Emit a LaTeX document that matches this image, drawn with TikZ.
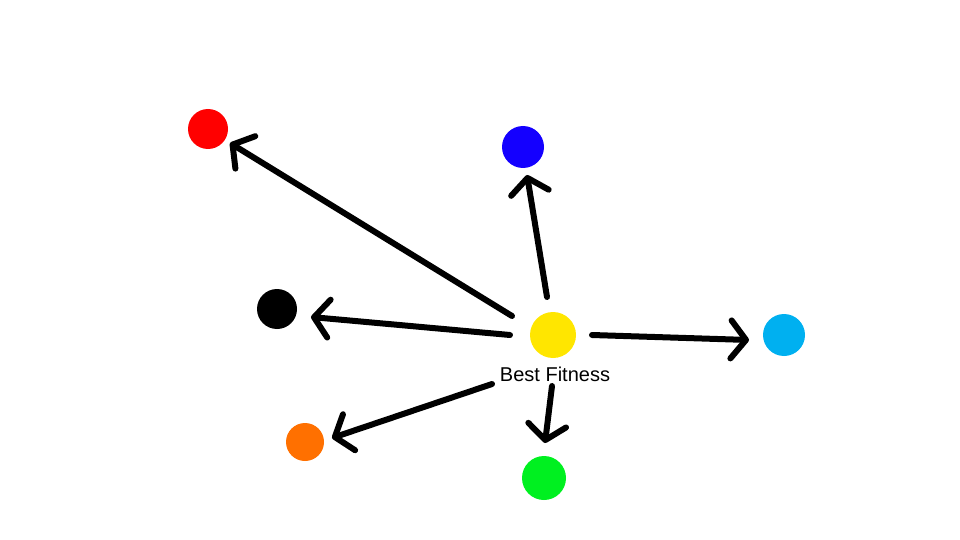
\documentclass[tikz,border=0pt]{standalone}
\usepackage{fontspec}
\setmainfont{Liberation Sans}
\usetikzlibrary{arrows.meta}
\definecolor{cred}{HTML}{FF0000}
\definecolor{cblue}{HTML}{1400FF}
\definecolor{cyel}{HTML}{FFE600}
\definecolor{ccyan}{HTML}{00B0F0}
\definecolor{corange}{HTML}{FF7000}
\definecolor{cgreen}{HTML}{00F020}
\tikzset{
  dot/.style={circle, inner sep=0pt, minimum size=#1},
  arr/.style={line width=6pt, line cap=round, -{Straight Barb[length=15pt,width=38pt,round]}},
}
\begin{document}
\begin{tikzpicture}[x=1pt,y=-1pt]
\useasboundingbox (0,0) rectangle (960,540);
\node[dot=40pt, fill=cred] (r) at (208,129) {};
\node[dot=42pt, fill=cblue] (b) at (523,147) {};
\node[dot=40pt, fill=black] (k) at (277,309) {};
\node[dot=46pt, fill=cyel] (y) at (553,335) {};
\node[dot=42pt, fill=ccyan] (c) at (784,335) {};
\node[dot=38pt, fill=corange] (o) at (305,442) {};
\node[dot=44pt, fill=cgreen] (g) at (544,478) {};
\node[font=\fontsize{20}{24}\selectfont] (t) at (555,374) {Best Fitness};
\coordinate (s1) at (512,316); \coordinate (e1) at (230,143);
\coordinate (s2) at (547,297); \coordinate (e2) at (527,175);
\coordinate (s3) at (510,335); \coordinate (e3) at (311,317);
\coordinate (s4) at (592,335); \coordinate (e4) at (749,340);
\coordinate (s5) at (492,384); \coordinate (e5) at (332,438);
\coordinate (s6) at (552,386); \coordinate (e6) at (545,443);
\draw[arr] (s1) -- (e1);
\draw[arr] (s2) -- (e2);
\draw[arr] (s3) -- (e3);
\draw[arr] (s4) -- (e4);
\draw[arr] (s5) -- (e5);
\draw[arr] (s6) -- (e6);
\end{tikzpicture}
\end{document}
